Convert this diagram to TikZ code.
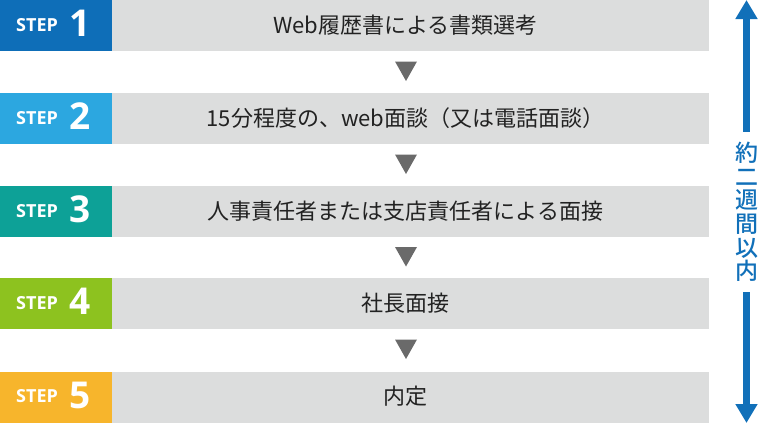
\documentclass[tikz,border=0pt]{standalone}
\usepackage{fontspec}
\setmainfont{Open Sans}
\newfontfamily\jp{Noto Sans CJK JP}
\newfontfamily\jpmed{Noto Sans CJK JP Medium}
\usetikzlibrary{arrows.meta}
\definecolor{stepA}{HTML}{0E6EB8}
\definecolor{stepB}{HTML}{2CA7E0}
\definecolor{stepC}{HTML}{0DA197}
\definecolor{stepD}{HTML}{8DC21F}
\definecolor{stepE}{HTML}{F7B52C}
\definecolor{boxgray}{HTML}{DCDDDD}
\definecolor{trigray}{HTML}{6A6A6A}
\definecolor{arrowblue}{HTML}{1170B9}
\definecolor{txt}{HTML}{222222}
\tikzset{
  labelbox/.style={rectangle, minimum width=112pt, minimum height=51pt, inner sep=0pt, anchor=north west},
  graybox/.style={rectangle, fill=boxgray, minimum width=597pt, minimum height=51pt, inner sep=0pt, anchor=north west},
  steptext/.style={text=white, font=\bfseries\fontsize{18}{18}\selectfont, inner sep=0pt, anchor=west},
  stepnum/.style={text=white, font=\bfseries\fontsize{37}{37}\selectfont, inner sep=0pt},
  jptext/.style={text=txt, font=\jp\fontsize{22}{22}\selectfont, inner sep=0pt},
  downtri/.style={fill=trigray},
}
\begin{document}
\begin{tikzpicture}[x=1pt,y=-1pt]
\useasboundingbox (0,0) rectangle (759,423);
\foreach \i/\top/\col/\txt in {1/0/stepA/{Web履歴書による書類選考},
  2/93/stepB/{15分程度の、web面談（又は電話面談）},
  3/186/stepC/{人事責任者または支店責任者による面接},
  4/278/stepD/{社長面接},
  5/371.5/stepE/{内定}}{
  \node[labelbox, fill=\col] (lab\i) at (0,\top) {};
  \node[graybox] (box\i) at (112,\top) {};
  \node[steptext] (st\i) at (16,\top+25) {STEP};
  \node[stepnum] (num\i) at (80.5,\top+23.5) {\i};
  \node[jptext] (t\i) at (405.5,\top+25) {\txt};
}
\foreach \y in {61.5,154.5,247,339.5}{
  \fill[downtri] (395,\y) -- (417,\y) -- (406,\y+19.5) -- cycle;
}
\node[text=arrowblue, font=\jpmed\fontsize{23}{23.7}\selectfont, align=center, inner sep=0pt, minimum height=160pt] (span) at (746.5,212) {約\\二\\週\\間\\以\\内};
\coordinate (top) at (746.5,0);
\coordinate (bot) at (746.5,423);
\draw[arrowblue, line width=7pt, -{Triangle[width=21pt,length=19pt]}] (span.north) -- (top);
\draw[arrowblue, line width=7pt, -{Triangle[width=21pt,length=19pt]}] (span.south) -- (bot);
\end{tikzpicture}
\end{document}
